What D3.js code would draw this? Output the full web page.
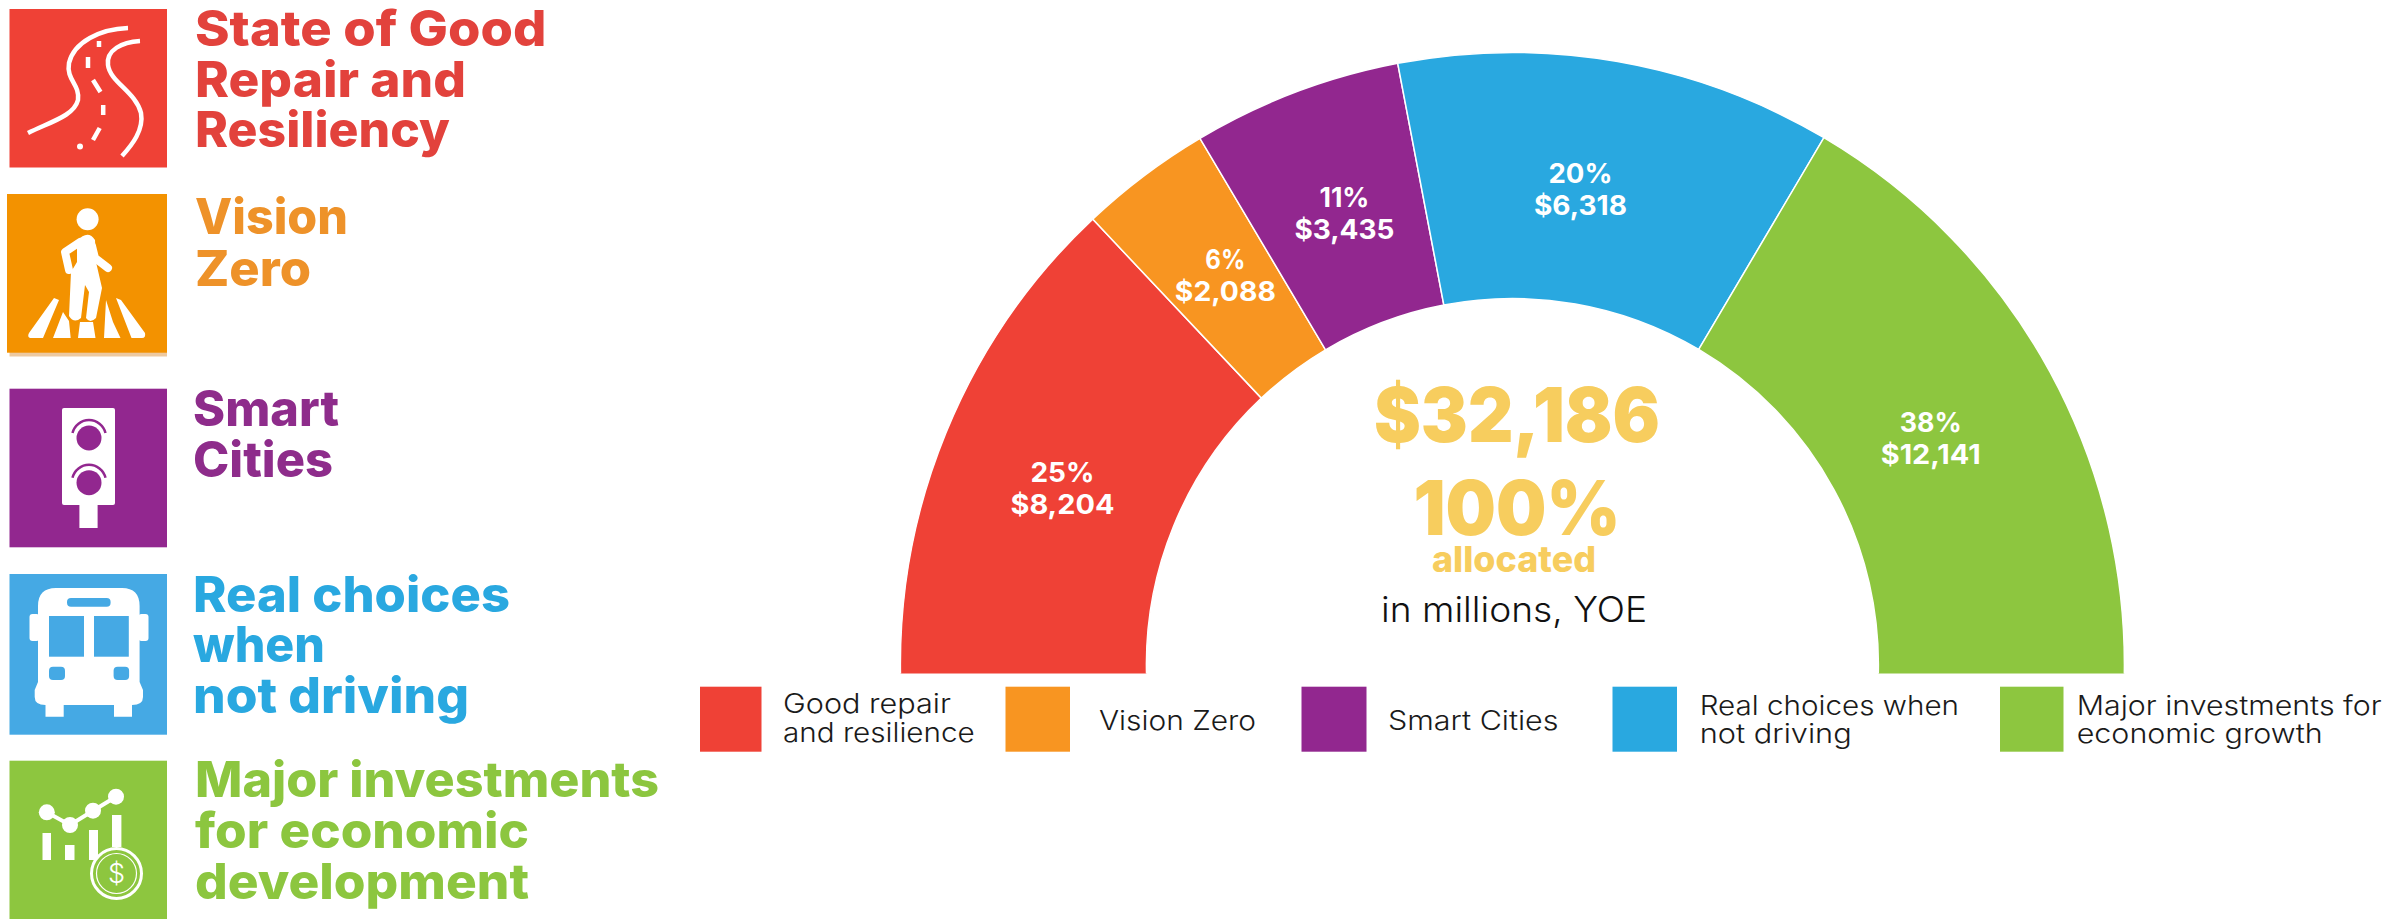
<!DOCTYPE html>
<html>
<head>
<meta charset="utf-8">
<title>Allocation by goal</title>
<script src="https://cdn.jsdelivr.net/npm/d3@7"></script>
<style>
	html, body { margin: 0; padding: 0; background: #fff; }
	svg { display: block; }
	text { font-family: Inter, "Open Sans", sans-serif; }
</style>
</head>
<body>
<svg id="chart" width="2402" height="919"></svg>
<script>
//chart values
var categories = ['Good repair and resilience', 'Vision Zero', 'Smart Cities', 'Real choices when not driving', 'Major investments for economic growth'];
var dollars = [8204, 2088, 3435, 6318, 12141];
var percents = [25, 6, 11, 20, 38];
//the drawing is not to scale, these are the sweeps read off the picture (degrees)
var sweeps = [46.7, 12.6, 19.9, 41.4, 59.4];
var colors = ['#EF4136', '#F89521', '#92278F', '#29A8E0', '#8DC63F'];

//legend and heading text
var legendLines = [['Good repair', 'and resilience'], ['Vision Zero'], ['Smart Cities'], ['Real choices when', 'not driving'], ['Major investments for', 'economic growth']];
var headingLines = [['State of Good', 'Repair and', 'Resiliency'], ['Vision', 'Zero'], ['Smart', 'Cities'], ['Real choices', 'when', 'not driving'], ['Major investments', 'for economic', 'development']];
var headingColors = ['#E2423C', '#EE9229', '#8E2C8B', '#29A8E0', '#8CC63F'];
var iconColors = ['#EF4136', '#F39200', '#92278F', '#45A9E4', '#8DC63F'];

var svg = d3.select('#chart');

var cx = 1512.4, cy = 664.5, outerR = 612, innerR = 366, baseline = 673.5;

//text with a known drawn width
function fitText(parent, str, x, y, width, size, weight, fill, anchor) {
	return parent.append('text')
		.attr('x', x).attr('y', y)
		.attr('text-anchor', anchor || 'start')
		.attr('font-size', size)
		.attr('font-weight', weight)
		.attr('fill', fill)
		.attr('textLength', width)
		.attr('lengthAdjust', 'spacingAndGlyphs')
		.text(str);
}

function drawGauge() {
	var angle = d3.scaleLinear().domain([0, d3.sum(sweeps)]).range([-Math.PI / 2, Math.PI / 2]);
	var ends = Array.from(d3.cumsum(sweeps));
	//ring runs a little past horizontal and is cut flat at the baseline
	var overrun = 0.04;

	var slices = sweeps.map(function(s, i) {
		return {
			startAngle: angle(i ? ends[i - 1] : 0),
			endAngle: angle(ends[i]),
			index: i
		};
	});

	var arc = d3.arc().innerRadius(innerR).outerRadius(outerR);
	var labelArc = d3.arc().innerRadius(477).outerRadius(477);

	svg.append('clipPath').attr('id', 'ring-clip')
		.append('rect').attr('x', 0).attr('y', 0).attr('width', 2402).attr('height', baseline);

	var ring = svg.append('g').attr('clip-path', 'url(#ring-clip)')
		.append('g').attr('transform', 'translate(' + cx + ',' + cy + ')');

	ring.selectAll('path')
		.data(slices)
		.enter().append('path')
		.attr('d', function(d, i) {
			return arc({
				startAngle: d.startAngle - (i === 0 ? overrun : 0),
				endAngle: d.endAngle + (i === slices.length - 1 ? overrun : 0)
			});
		})
		.attr('fill', function(d) { return colors[d.index]; })
		.attr('stroke', '#fff')
		.attr('stroke-width', 1.5);

	//labels sit near the slice centroid, a few were moved by hand in the original
	var nudges = [[-12, 13], [0, -8.5], [1, -4.5], [-14, -5], [4, 10]];
	var money = d3.format('$,');
	var labels = svg.append('g').attr('transform', 'translate(' + cx + ',' + cy + ')');

	slices.forEach(function(d, i) {
		var c = labelArc.centroid(d);
		var x = c[0] + nudges[i][0], y = c[1] + nudges[i][1];
		var widths = [[64, 104], [40, 101], [50, 100], [64, 93], [62, 100]][i];
		fitText(labels, percents[i] + '%', x, y - 6.5, widths[0], 27, 700, '#fff', 'middle');
		fitText(labels, money(dollars[i]), x, y + 25.5, widths[1], 27, 700, '#fff', 'middle');
	});

	//centre text
	var yellow = '#F7CD5E';
	fitText(svg, money(d3.sum(dollars)), 1517, 441.7, 286, 76, 900, yellow, 'middle');
	fitText(svg, '100%', 1517, 535, 207, 76, 900, yellow, 'middle');
	fitText(svg, 'allocated', 1514, 572, 164, 36, 800, yellow, 'middle');
	fitText(svg, 'in millions, YOE', 1514, 621.7, 266, 35, 300, '#111', 'middle');
}

function drawLegend() {
	var swatchX = [700, 1005.5, 1301.5, 1612.5, 2000];
	var swatchW = [61.5, 64.5, 65, 64.5, 63.5];
	var textX = [783, 1099, 1388, 1699.7, 2076.7];
	var textW = [[168, 191.7], [157], [170.5], [259.3, 152], [305, 246]];
	var textY = [[712.7, 741.7], [730], [730], [715, 743], [715, 743]];

	var legend = svg.append('g');
	categories.forEach(function(c, i) {
		legend.append('rect')
			.attr('x', swatchX[i]).attr('y', 686.7)
			.attr('width', swatchW[i]).attr('height', 65)
			.attr('fill', colors[i]);

		legendLines[i].forEach(function(line, j) {
			fitText(legend, line, textX[i], textY[i][j], textW[i][j], 27, 300, '#1a1a1a');
		});
	});
}

function drawHeadings() {
	var textX = [195, 195, 193, 193, 195];
	var textW = [[351.4, 271, 255], [153, 116], [146, 140], [317, 132, 276], [464, 334, 334]];
	var textY = [[45.7, 96.7, 147.3], [234.3, 285.7], [425.7, 476.7], [611.7, 662.3, 713.3], [797.3, 848.3, 899.3]];

	var heads = svg.append('g');
	headingLines.forEach(function(lines, i) {
		lines.forEach(function(line, j) {
			fitText(heads, line, textX[i], textY[i][j], textW[i][j], 49, 800, headingColors[i]);
		});
	});
}

function drawIcons() {
	var g = svg.append('g');
	var white = '#fff';

	//tiles
	g.append('rect').attr('x', 9.5).attr('y', 9).attr('width', 157.5).attr('height', 158.5).attr('fill', iconColors[0]);
	g.append('rect').attr('x', 9.5).attr('y', 200).attr('width', 157.5).attr('height', 156.5).attr('fill', '#EDC9A0');
	g.append('rect').attr('x', 7).attr('y', 194).attr('width', 160).attr('height', 158.7).attr('fill', iconColors[1]);
	g.append('rect').attr('x', 9.5).attr('y', 388.7).attr('width', 157.5).attr('height', 158.6).attr('fill', iconColors[2]);
	g.append('rect').attr('x', 9.5).attr('y', 574).attr('width', 157.5).attr('height', 160.7).attr('fill', iconColors[3]);
	g.append('rect').attr('x', 9.5).attr('y', 760.7).attr('width', 157.5).attr('height', 158.3).attr('fill', iconColors[4]);

	//road
	var road = g.append('g').attr('fill', 'none').attr('stroke', white).attr('stroke-width', 4.5);
	road.append('path').attr('d', 'M128,28 C100,29 74,42 69,63 C66,80 80,84 78,100 C74,116 50,122 28,133');
	road.append('path').attr('d', 'M140,41 C122,42 106,50 108,65 C110,82 136,92 141,113 C144,130 132,145 122,156');
	road.append('path').attr('d', 'M99,41 L99,47 M88,57 L88,68 M93,80 L100.5,92 M103.2,105 L103.2,115 M99.7,128 L93,140');
	road.append('circle').attr('cx', 80).attr('cy', 146.5).attr('r', 3).attr('fill', white).attr('stroke', 'none');

	//pedestrian on a crossing
	g.append('ellipse').attr('cx', 87.6).attr('cy', 219.3).attr('rx', 11).attr('ry', 11).attr('fill', white);
	g.append('path').attr('d', 'M54,298 L59,300 L43,338 L30,338 Q27,337 29,333 Z M63,312 L69,321 L70.7,338 L53,338 Z M80,322 L93,322 L95.5,338 L78,338 Z M106,300 L113,322 L120.5,338 L104,338 Z M116,298 L121,300 L145,333 Q146,338 142,338 L131.5,338 Z').attr('fill', white);
	g.append('path').attr('d', 'M80,242 L65,252 L69,270 M92,246 L95,258 L108,268').attr('fill', 'none').attr('stroke', white).attr('stroke-width', 8).attr('stroke-linecap', 'round').attr('stroke-linejoin', 'round');
	g.append('path').attr('d', 'M77,241 Q88,229 95,240 L96,262 L102,288 L96,318 Q90,324 86,318 L89,292 L85,285 L81,318 Q74,324 69,316 L71,272 L77,262 Z').attr('fill', white);

	//traffic signal
	g.append('rect').attr('x', 62).attr('y', 408).attr('width', 53).attr('height', 97).attr('rx', 2).attr('fill', white);
	g.append('rect').attr('x', 79.4).attr('y', 505).attr('width', 18.2).attr('height', 23).attr('fill', white);
	[438, 482.7].forEach(function(y) {
		g.append('circle').attr('cx', 89).attr('cy', y).attr('r', 12.5).attr('fill', iconColors[2]);
		g.append('path').attr('d', 'M72.5,' + (y - 5) + ' A17,17 0 0 1 105.5,' + (y - 5)).attr('fill', 'none').attr('stroke', iconColors[2]).attr('stroke-width', 2.5);
	});

	//bus
	g.append('path').attr('d', 'M38,606 Q38,588 56,588 L122,588 Q139.6,588 139.6,606 L139.6,682 L143,690 L143,697 Q143,705 132,705 L132,716.7 L114,716.7 L114,705 L63.7,705 L63.7,716.7 L45.5,716.7 L45.5,705 Q34.7,705 34.7,697 L34.7,690 L38,682 Z').attr('fill', white);
	g.append('rect').attr('x', 29.5).attr('y', 614).attr('width', 10).attr('height', 27).attr('rx', 3).attr('fill', white);
	g.append('rect').attr('x', 138.5).attr('y', 614).attr('width', 10).attr('height', 27).attr('rx', 3).attr('fill', white);
	g.append('rect').attr('x', 49).attr('y', 616).attr('width', 35).attr('height', 40.7).attr('fill', iconColors[3]);
	g.append('rect').attr('x', 94).attr('y', 616).attr('width', 34.8).attr('height', 40.7).attr('fill', iconColors[3]);
	g.append('rect').attr('x', 67).attr('y', 598).attr('width', 43.6).attr('height', 8.7).attr('rx', 4).attr('fill', iconColors[3]);
	g.append('rect').attr('x', 49).attr('y', 666.7).attr('width', 16).attr('height', 13.3).attr('rx', 4).attr('fill', iconColors[3]);
	g.append('rect').attr('x', 113.6).attr('y', 666.7).attr('width', 15.5).attr('height', 13.3).attr('rx', 4).attr('fill', iconColors[3]);

	//growth chart with coin
	var dots = [[46.8, 812.3], [70, 825], [93, 810.7], [116, 796.7]];
	g.append('path').attr('d', d3.line()(dots)).attr('fill', 'none').attr('stroke', white).attr('stroke-width', 4);
	dots.forEach(function(p) {
		g.append('circle').attr('cx', p[0]).attr('cy', p[1]).attr('r', 8).attr('fill', white);
	});
	[[42.5, 833, 8.5, 27], [65, 845, 9.5, 15], [89, 830, 9, 30], [112, 815, 9.4, 32]].forEach(function(b) {
		g.append('rect').attr('x', b[0]).attr('y', b[1]).attr('width', b[2]).attr('height', b[3]).attr('fill', white);
	});
	g.append('circle').attr('cx', 116.5).attr('cy', 873.5).attr('r', 25).attr('fill', iconColors[4]).attr('stroke', white).attr('stroke-width', 3);
	g.append('circle').attr('cx', 116.5).attr('cy', 873.5).attr('r', 20).attr('fill', 'none').attr('stroke', white).attr('stroke-width', 1.2);
	g.append('text').attr('x', 116.5).attr('y', 883).attr('text-anchor', 'middle').attr('font-size', 27).attr('font-weight', 300).attr('fill', white).text('$');
}

drawIcons();
drawHeadings();
drawGauge();
drawLegend();
</script>
</body>
</html>
